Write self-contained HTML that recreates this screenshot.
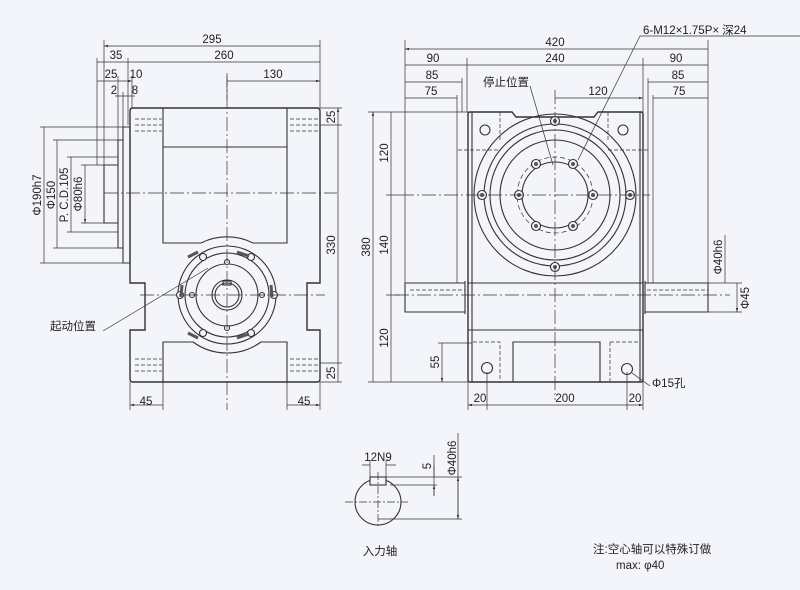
<!DOCTYPE html>
<html><head><meta charset="utf-8"><style>
html,body{margin:0;padding:0;background:#f3f5fa}
svg{display:block}
text{font-family:"Liberation Sans","Noto Sans CJK SC",sans-serif;fill:#222;font-size:11.5px}
</style></head><body>
<svg width="800" height="590" viewBox="0 0 800 590" xmlns="http://www.w3.org/2000/svg">
<defs>
<marker id="a" viewBox="0 0 10 10" refX="10" refY="5" markerWidth="6" markerHeight="6" orient="auto-start-reverse"><path d="M0,2 L10,5 L0,8z" fill="#333"/></marker>
</defs>
<rect width="800" height="590" fill="#f3f5fa"/>
<g fill="none" stroke="#333" stroke-width="1.1">
<!-- LEFT VIEW -->
<path d="M133,108 H317 Q320,108 320,111 V283 H307 V330 H320 V379 Q320,382 317,382 H133 Q130,382 130,379 V330 H145 V283 H130 V111 Q130,108 133,108Z" stroke-width="1.4"/>
<path d="M163,108 V243 H201 A58,58 0 0 1 253,243 H287 V108 M163,147 H287"/>
<path d="M163,382 V342 H193 A58,58 0 0 0 261,342 H287 V382"/>
<path d="M123,127 H130 V263 H123Z M118,140 H123 V248 H118Z M104,165 H118 V223 H104Z"/>
<circle cx="227" cy="295" r="49"/><circle cx="227" cy="295" r="42"/>
<circle cx="227" cy="295" r="31"/><circle cx="227" cy="295" r="15"/><circle cx="227" cy="295" r="12"/>
<rect x="223" y="281" width="8" height="4"/>
<g fill="#f3f5fa"><circle cx="203" cy="257" r="3.5"/><circle cx="251" cy="257" r="3.5"/><circle cx="180" cy="295" r="3.5"/><circle cx="274" cy="295" r="3.5"/><circle cx="203" cy="333" r="3.5"/><circle cx="251" cy="333" r="3.5"/>
<circle cx="227" cy="262" r="2.5"/><circle cx="227" cy="328" r="2.5"/><circle cx="192" cy="295" r="2.5"/><circle cx="262" cy="295" r="2.5"/></g>
<path d="M237,252 l12,4 M182,285 l-1,12 M271,285 l1,12 M237,338 l12,-4 M198,252 l-10,5 M198,338 l-10,-5" stroke-width="3" stroke="#555"/>
<g stroke-dasharray="4,2" stroke-width="0.8"><path d="M135,119 H162 M135,125 H162 M135,131 H162 M290,119 H318 M290,125 H318 M290,131 H318 M135,359 H162 M135,365 H162 M135,371 H162 M290,359 H318 M290,365 H318 M290,371 H318"/></g>
<g stroke-dasharray="14,3,2,3" stroke-width="0.7"><path d="M227,73 V410 M104,193 H337 M140,295 H325"/></g>
<!-- left dims -->
<g stroke-width="0.7">
<path d="M104,40 V165 M320,40 V108 M97,58 V165 M128,58 V125 M118,76 V140 M132,76 V108 M123,92 V127 M227,76 V100"/>
<path d="M104,46 H320 M97,62 H128 M128,62 H320 M227,81 H320" marker-start="url(#a)" marker-end="url(#a)"/>
<path d="M97,81 H118 M118,81 H132" marker-end="url(#a)"/>
<path d="M115,96 H135"/>
<path d="M320,108 H342 M320,125 H342 M320,363 H342 M320,382 H342 M40,127 H123 M53,140 H118 M67,157 H118 M81,165 H104 M40,263 H123 M53,248 H118 M67,232 H118 M81,223 H104"/>
<path d="M338,108 V125 M338,125 V363 M338,363 V382 M44,127 V263 M57,140 V248 M71,157 V232 M85,165 V223" marker-start="url(#a)" marker-end="url(#a)"/>
<path d="M130,382 V410 M163,382 V410 M287,382 V410 M320,382 V410"/>
<path d="M130,405 H163 M287,405 H320" marker-start="url(#a)" marker-end="url(#a)"/>
<path d="M103,331 L208,268"/>
</g>
<!-- RIGHT VIEW -->
<path d="M470,112 H512 L516,117 H594 L598,112 H641 Q643,112 643,114 V380 Q643,382 641,382 H470 Q468,382 468,380 V114 Q468,112 470,112Z" stroke-width="1.4"/>
<path d="M472,112 V382 M640,112 V382 M468,283 H643 M468,330 H643"/>
<path d="M513,382 V342 H600 V382"/>
<path d="M405,283 H465 V312 H405Z M465,281 V314 M645,281 V314 M645,283 H708 V312 H645Z"/>
<circle cx="555" cy="195" r="81"/><circle cx="555" cy="195" r="71"/><circle cx="555" cy="195" r="65"/><circle cx="555" cy="195" r="55"/><circle cx="555" cy="195" r="33"/>
<circle cx="555" cy="195" r="38" stroke-dasharray="5,3" stroke-width="0.7"/>
<g fill="#f3f5fa"><circle cx="519" cy="195" r="4.5"/><circle cx="593" cy="195" r="4.5"/><circle cx="536" cy="164" r="4.5"/><circle cx="573" cy="164" r="4.5"/><circle cx="536" cy="226" r="4.5"/><circle cx="573" cy="226" r="4.5"/>
<circle cx="555" cy="121" r="4.5"/><circle cx="482" cy="195" r="4.5"/><circle cx="630" cy="195" r="4.5"/><circle cx="555" cy="267" r="4.5"/>
<circle cx="485" cy="130" r="5"/><circle cx="623" cy="130" r="5"/><circle cx="487" cy="368" r="5.5"/><circle cx="627" cy="369" r="5.5"/></g>
<g fill="#555" stroke="none"><circle cx="519" cy="195" r="2"/><circle cx="593" cy="195" r="2"/><circle cx="536" cy="164" r="2"/><circle cx="573" cy="164" r="2"/><circle cx="536" cy="226" r="2"/><circle cx="573" cy="226" r="2"/><circle cx="555" cy="121" r="2"/><circle cx="482" cy="195" r="2"/><circle cx="630" cy="195" r="2"/><circle cx="555" cy="267" r="2"/></g>
<g stroke-dasharray="4,2" stroke-width="0.7"><path d="M500,112 V140 M608,112 V140 M458,150 H500 M608,150 H650 M473,342 H500 V382 M610,342 H640 M610,342 V382 M410,290 H465 M647,290 H708"/></g>
<g stroke-dasharray="14,3,2,3" stroke-width="0.7"><path d="M555,90 V400 M400,195 H650 M395,295 H730"/></g>
<g stroke-width="0.7">
<path d="M405,40 V283 M708,40 V283 M467,58 V112 M643,58 V112 M462,78 V112 M648,78 V283 M457,95 V283 M653,95 V283"/>
<path d="M405,49 H708 M405,65 H467 M467,65 H643 M643,65 H708 M405,82 H462 M648,82 H708 M405,98 H457 M653,98 H708 M555,98 H643" marker-start="url(#a)" marker-end="url(#a)"/>
<path d="M368,112 H468 M368,382 H468 M386,195 H400 M386,295 H400 M438,343 H472"/>
<path d="M373,112 V382 M391,112 V195 M391,195 V295 M391,295 V382 M442,343 V382" marker-start="url(#a)" marker-end="url(#a)"/>
<path d="M708,283 H742 M708,312 H742 M725,235 V283 M737,283 V312" marker-end="url(#a)"/>
<path d="M468,382 V410 M487,372 V410 M627,372 V410 M643,382 V410"/>
<path d="M468,405 H487 M487,405 H627 M627,405 H643" marker-start="url(#a)" marker-end="url(#a)"/>
<path d="M640,36 L578,160 M640,36 H800 M530,86 L553,165 M632,373 L650,386"/>
</g>
<!-- key shaft -->
<circle cx="378" cy="502" r="23"/>
<rect x="370" y="477" width="16" height="8" fill="#f3f5fa"/>
<g stroke-dasharray="8,2,2,2" stroke-width="0.7"><path d="M345,502 H408 M378,472 V528"/></g>
<g stroke-width="0.7">
<path d="M370,460 V477 M386,460 V477 M386,477 H462 M390,485 H437 M378,519 H462 M434,455 V496 M458,433 V519"/>
<path d="M362,465 H370 M396,465 H386 M434,465 V477 M434,496 V485" marker-end="url(#a)"/>
<path d="M458,477 V519" marker-start="url(#a)" marker-end="url(#a)"/>
</g>
</g>
<!-- TEXT -->
<g text-anchor="middle">
<text x="212" y="43">295</text><text x="116" y="59">35</text><text x="224" y="59">260</text>
<text x="111" y="78">25</text><text x="136" y="78">10</text><text x="273" y="78">130</text>
<text x="114" y="94">2</text><text x="135" y="94">8</text>
<text x="146" y="405">45</text><text x="304" y="405">45</text>
<text x="555" y="46">420</text><text x="433" y="62">90</text><text x="555" y="62">240</text><text x="676" y="62">90</text>
<text x="432" y="79">85</text><text x="678" y="79">85</text><text x="431" y="95">75</text><text x="679" y="95">75</text>
<text x="598" y="95">120</text>
<text x="480" y="402">20</text><text x="565" y="402">200</text><text x="635" y="402">20</text>
<text x="378" y="461" font-size="10">12N9</text>
<text x="380" y="555" font-size="13">入力轴</text>
</g>
<text x="506" y="86" font-size="12.5" text-anchor="middle">停止位置</text>
<text x="643" y="34" font-size="12.5">6-M12×1.75P× 深24</text>
<text x="50" y="330" font-size="12.5">起动位置</text>
<text x="652" y="387" font-size="11">Φ15孔</text>
<text x="593" y="553" font-size="13">注:空心轴可以特殊订做</text>
<text x="616" y="569" font-size="13">max: φ40</text>
<g font-size="11.5" text-anchor="middle">
<text transform="translate(335,117) rotate(-90)">25</text>
<text transform="translate(335,245) rotate(-90)">330</text>
<text transform="translate(335,373) rotate(-90)">25</text>
<text transform="translate(41,195) rotate(-90)">Φ190h7</text>
<text transform="translate(55,195) rotate(-90)">Φ150</text>
<text transform="translate(68,195) rotate(-90)">P. C.D.105</text>
<text transform="translate(82,194) rotate(-90)">Φ80h6</text>
<text transform="translate(370,247) rotate(-90)">380</text>
<text transform="translate(388,153) rotate(-90)">120</text>
<text transform="translate(388,245) rotate(-90)">140</text>
<text transform="translate(388,338) rotate(-90)">120</text>
<text transform="translate(439,362) rotate(-90)">55</text>
<text transform="translate(722,257) rotate(-90)">Φ40h6</text>
<text transform="translate(749,298) rotate(-90)">Φ45</text>
<text transform="translate(431,466) rotate(-90)" font-size="10">5</text>
<text transform="translate(456,458) rotate(-90)" font-size="10">Φ40h6</text>
</g>
</svg>
</body></html>
